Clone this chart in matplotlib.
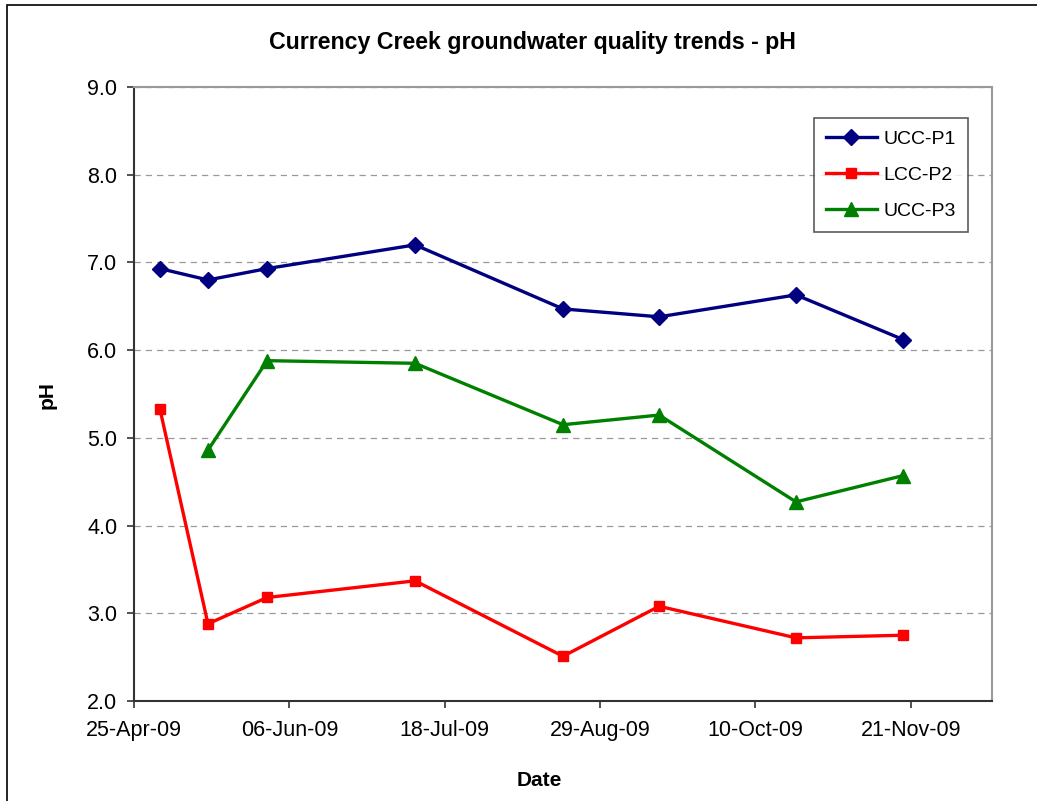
import matplotlib
matplotlib.use("Agg")
import matplotlib.pyplot as plt
import matplotlib.dates as mdates
from matplotlib.patches import Rectangle
import pandas as pd

plt.rcParams['font.family'] = ['Liberation Sans', 'DejaVu Sans']

# sampling dates and pH readings
dates = pd.to_datetime(['2009-05-02', '2009-05-15', '2009-05-31', '2009-07-10',
                        '2009-08-19', '2009-09-14', '2009-10-21', '2009-11-19'])
ucc_p1 = [6.93, 6.80, 6.93, 7.20, 6.47, 6.38, 6.63, 6.12]
lcc_p2 = [5.33, 2.88, 3.18, 3.37, 2.51, 3.08, 2.72, 2.75]
ucc_p3 = [None, 4.86, 5.88, 5.85, 5.15, 5.26, 4.27, 4.57]

tick_dates = pd.date_range('2009-04-25', periods=6, freq='42D')

W, H = 1037, 801
fig = plt.figure(figsize=(W / 100, H / 100), dpi=100)
fig.patches.append(Rectangle((7 / W, -0.05), 1.1, 1 - 5 / H + 0.05,
                             transform=fig.transFigure, fill=False,
                             edgecolor='black', linewidth=1.2))

ax = fig.add_axes([134 / W, 1 - 701 / H, (992 - 134) / W, (701 - 87) / H])

p3_dates = [d for d, v in zip(dates, ucc_p3) if v is not None]
p3_vals = [v for v in ucc_p3 if v is not None]

ax.plot(dates, ucc_p1, color='#000080', marker='D', markersize=8, linewidth=2.4, label='UCC-P1')
ax.plot(dates, lcc_p2, color='#FF0000', marker='s', markersize=7.5, linewidth=2.4, label='LCC-P2')
ax.plot(p3_dates, p3_vals, color='#008000', marker='^', markersize=9.5, linewidth=2.4, label='UCC-P3')

ax.set_ylim(2.0, 9.0)
ax.set_yticks([2, 3, 4, 5, 6, 7, 8, 9])
ax.yaxis.set_major_formatter(plt.FuncFormatter(lambda v, p: f'{v:.1f}'))
ax.set_xlim(pd.Timestamp('2009-04-25'), pd.Timestamp('2009-12-13'))
ax.set_xticks(tick_dates)
ax.xaxis.set_major_formatter(mdates.DateFormatter('%d-%b-%y'))

ax.grid(axis='y', color='#999999', linestyle=(0, (5, 4)), linewidth=0.9)
ax.set_axisbelow(True)
for side in ['top', 'right']:
    ax.spines[side].set_color('#999999')
    ax.spines[side].set_linewidth(1.5)
for side in ['left', 'bottom']:
    ax.spines[side].set_color('#333333')
    ax.spines[side].set_linewidth(1.5)
ax.tick_params(axis='both', direction='out', length=5, width=1.2, color='#333333',
               labelsize=15.5)
ax.tick_params(axis='y', pad=7)
ax.tick_params(axis='x', pad=9)

fig.text(532 / W, 1 - 42 / H, 'Currency Creek groundwater quality trends - pH',
         fontsize=16.7, fontweight='bold', ha='center', va='center')
fig.text(539 / W, 1 - 781 / H, 'Date', fontsize=15, fontweight='bold',
         ha='center', va='center')
fig.text(47 / W, 1 - 395 / H, 'pH', fontsize=15, fontweight='bold',
         ha='center', va='center', rotation=90)

leg = ax.legend(loc='upper right', bbox_to_anchor=((968 - 134) / 858, (701 - 118) / 614),
                borderaxespad=0, fontsize=14, frameon=True, fancybox=False,
                edgecolor='#333333', handlelength=2.6, handletextpad=0.35,
                labelspacing=0.95, borderpad=0.62)
leg.get_frame().set_linewidth(1.2)

fig.savefig('out.png', dpi=100)
